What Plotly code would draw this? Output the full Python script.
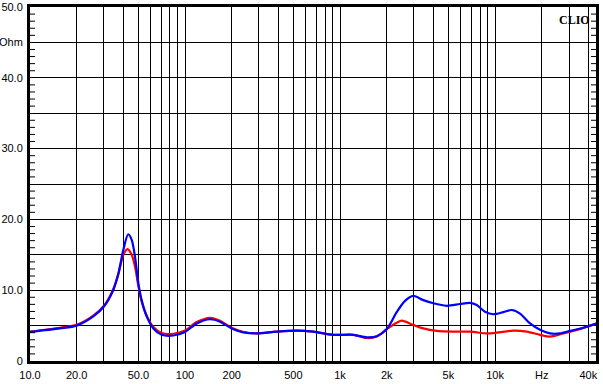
import numpy as np
import plotly.graph_objects as go

# ---- data ----
freq_blue = [10, 15.6, 20, 25.6, 30, 34.4, 37.2, 40, 43, 45.3, 47.6, 50, 52.5, 56.6, 62.5,
             70.8, 84, 100, 119, 145, 168, 200, 238, 290, 389, 525, 673, 906, 1220, 1486,
             1725, 2000, 2320, 2625, 2970, 3445, 4000, 4875, 5940, 6900, 7620, 8610, 9750,
             11320, 12820, 14500, 16830, 19500, 22600, 26250, 30500, 37150, 45300]
z_blue = [4.1, 4.6, 5.0, 6.3, 7.7, 10.0, 12.4, 15.7, 17.9, 17.1, 14.7, 11.0, 8.6, 6.3, 4.6,
          3.7, 3.6, 4.1, 5.3, 5.9, 5.55, 4.6, 4.05, 3.9, 4.15, 4.3, 4.15, 3.7, 3.7, 3.35,
          3.5, 4.5, 6.9, 8.5, 9.2, 8.6, 8.15, 7.8, 8.05, 8.2, 7.9, 6.95, 6.6,
          6.9, 7.2, 6.7, 5.3, 4.4, 3.9, 3.9, 4.25, 4.7, 5.3]

freq_red = [10, 15.6, 20, 25.6, 30, 34.4, 37.2, 40, 42.6, 45.3, 47.6, 50, 52.5, 56.6, 62.5,
            70.8, 84, 100, 119, 145, 168, 200, 238, 290, 389, 525, 673, 906, 1220, 1486,
            1725, 2000, 2320, 2500, 2970, 3445, 4210, 5380, 6900, 8830, 10260, 13130,
            16030, 19500, 22600, 27550, 33650, 45300]
z_red = [4.15, 4.7, 5.1, 6.4, 7.8, 10.1, 12.3, 15.0, 15.8, 15.0, 13.3, 10.6, 8.4, 6.4, 4.8,
         3.95, 3.85, 4.3, 5.5, 6.1, 5.7, 4.7, 4.1, 3.9, 4.15, 4.3, 4.15, 3.7, 3.7, 3.25,
         3.45, 4.5, 5.4, 5.7, 5.1, 4.6, 4.25, 4.15, 4.15, 3.9, 4.0, 4.3,
         4.15, 3.7, 3.45, 3.9, 4.4, 5.3]

x_grid = [10, 20, 30, 40, 50, 60, 70, 80, 90, 100, 200, 300, 400, 500, 600, 700, 800, 900,
          1000, 2000, 3000, 4000, 5000, 6000, 7000, 8000, 9000, 10000, 20000, 30000, 40000]
x_labels = {10: "10.0", 20: "20.0", 50: "50.0", 100: "100", 200: "200", 500: "500",
            1000: "1k", 2000: "2k", 5000: "5k", 10000: "10k", 20000: "Hz", 40000: "40k"}
y_grid = [0, 5, 10, 15, 20, 25, 30, 35, 40, 45, 50]
y_labels = {0: "0", 10: "10.0", 20: "20.0", 30: "30.0", 40: "40.0", 45: "Ohm", 50: "50.0"}
y_minor = [v for v in range(1, 50) if v % 5 != 0]

fig = go.Figure()
fig.add_trace(go.Scatter(x=freq_red, y=z_red, mode="lines",
                         line=dict(color="#FF0000", width=2.2, shape="spline", smoothing=0.8),
                         hoverinfo="skip"))
fig.add_trace(go.Scatter(x=freq_blue, y=z_blue, mode="lines",
                         line=dict(color="#0000FF", width=2.2, shape="spline", smoothing=0.8),
                         hoverinfo="skip"))

font = dict(family="Liberation Sans, Arial, sans-serif", size=11, color="#000000")

fig.update_layout(
    width=603, height=384,
    margin=dict(l=30, r=7, t=7, b=23, autoexpand=False),
    paper_bgcolor="white", plot_bgcolor="white",
    showlegend=False,
    font=font,
    xaxis=dict(
        type="log", range=[1, np.log10(44800)], automargin=False,
        tickvals=x_grid, ticktext=[x_labels.get(v, "") for v in x_grid],
        showgrid=True, gridcolor="black", gridwidth=1,
        showline=True, linecolor="black", linewidth=3, mirror=True,
        ticks="", zeroline=False, tickfont=font, ticklabelstandoff=2,
    ),
    yaxis=dict(
        range=[0, 50], automargin=False,
        tickvals=y_grid, ticktext=[y_labels.get(v, "") for v in y_grid],
        showgrid=True, gridcolor="black", gridwidth=1,
        showline=True, linecolor="black", linewidth=3, mirror=True,
        ticks="", zeroline=False, tickfont=font, ticklabelstandoff=2,
    ),
)

# 1-Ohm minor tick marks along the inner left and right edges of the frame
tick_frac = 5.0 / 566.0
for v in y_minor:
    fig.add_shape(type="line", xref="paper", yref="y", x0=0, x1=tick_frac, y0=v, y1=v,
                  line=dict(color="black", width=1), layer="above")
    fig.add_shape(type="line", xref="paper", yref="y", x0=1 - tick_frac, x1=1, y0=v, y1=v,
                  line=dict(color="black", width=1), layer="above")

fig.add_annotation(text="<b>CLIO</b>", xref="paper", yref="paper", x=0.993, y=0.99,
                   xanchor="right", yanchor="top", showarrow=False,
                   font=dict(family="Liberation Serif, Times New Roman, serif", size=12, color="black"))

fig.write_html("out.html", config={"displayModeBar": False},
               post_script="document.body.style.margin='0px';document.body.style.overflow='hidden';")
